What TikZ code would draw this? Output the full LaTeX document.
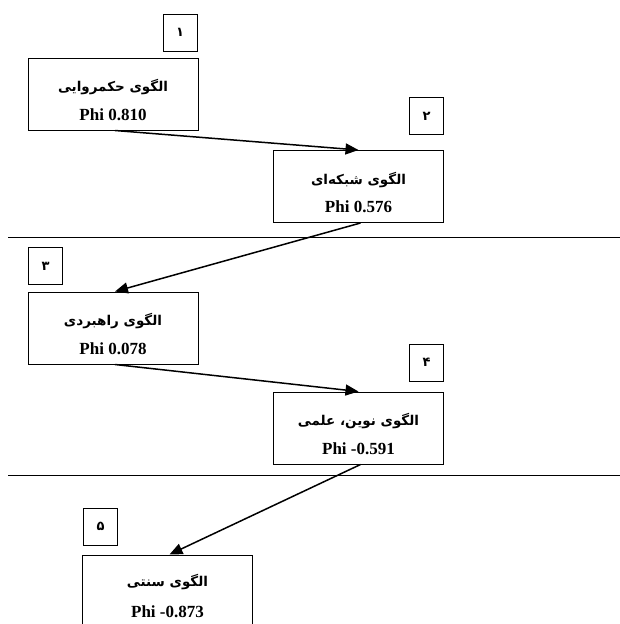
\documentclass[tikz,border=0pt]{standalone}
\usepackage{fontspec}
\setmainfont{Liberation Serif}
\newfontfamily\arabicfont[Script=Arabic]{DejaVu Sans}
\TeXXeTstate=1
\usetikzlibrary{arrows.meta}
\tikzset{
  mbox/.style={draw, line width=1pt, minimum width=170pt, minimum height=72pt, inner sep=0pt},
  nbox/.style={draw, line width=1pt, minimum width=34pt, minimum height=37pt, inner sep=0pt, font=\arabicfont\bfseries\fontsize{13}{14}\selectfont},
  atext/.style={font=\arabicfont\bfseries\fontsize{13.5}{15}\selectfont, inner sep=0pt},
  ptext/.style={font=\bfseries\fontsize{17}{19}\selectfont, inner sep=0pt},
  conn/.style={line width=1.5pt, -{Triangle[length=13pt,width=11pt]}},
  sep/.style={line width=1pt}
}
\begin{document}
\begin{tikzpicture}[x=1pt,y=-1pt]
\clip (0,0) rectangle (620,624);
% separators
\coordinate (l1a) at (8,237); \coordinate (l1b) at (620,237);
\coordinate (l2a) at (8,475); \coordinate (l2b) at (620,475);
\draw[sep] (l1a) -- (l1b);
\draw[sep] (l2a) -- (l2b);
% number boxes
\node[nbox] (n1) at (180,32.5) {\beginR ۱\endR};
\node[nbox] (n2) at (426.5,116) {\beginR ۲\endR};
\node[nbox] (n3) at (45.5,266) {\beginR ۳\endR};
\node[nbox] (n4) at (426.5,362.5) {\beginR ۴\endR};
\node[nbox] (n5) at (100.5,526.5) {\beginR ۵\endR};
% main boxes
\node[mbox] (A) at (113,94) {};
\node[mbox] (B) at (358.5,186.5) {};
\node[mbox] (C) at (113,328) {};
\node[mbox] (D) at (358.5,428) {};
\node[mbox] (E) at (167.5,591) {};
% texts
\node[atext] (At) at ([yshift=-30pt]A.north) {\beginR الگوی حکمروایی\endR};
\node[ptext] (Ap) at ([yshift=-57pt]A.north) {Phi 0.810};
\node[atext] (Bt) at ([yshift=-30pt]B.north) {\beginR الگوی شبکه‌ای\endR};
\node[ptext] (Bp) at ([yshift=-57pt]B.north) {Phi 0.576};
\node[atext] (Ct) at ([yshift=-30pt]C.north) {\beginR الگوی راهبردی\endR};
\node[ptext] (Cp) at ([yshift=-57pt]C.north) {Phi 0.078};
\node[atext] (Dt) at ([yshift=-30pt]D.north) {\beginR الگوی نوین، علمی\endR};
\node[ptext] (Dp) at ([yshift=-57pt]D.north) {Phi -0.591};
\node[atext] (Et) at ([yshift=-27pt]E.north) {\beginR الگوی سنتی\endR};
\node[ptext] (Ep) at ([yshift=-57pt]E.north) {Phi -0.873};
% connectors
\draw[conn] ([xshift=2pt]A.south) -- (B.north);
\draw[conn] ([xshift=2pt]B.south) -- ([xshift=2pt]C.north);
\draw[conn] ([xshift=2pt]C.south) -- (D.north);
\draw[conn] ([xshift=2pt]D.south) -- ([xshift=2pt]E.north);
\end{tikzpicture}
\end{document}
